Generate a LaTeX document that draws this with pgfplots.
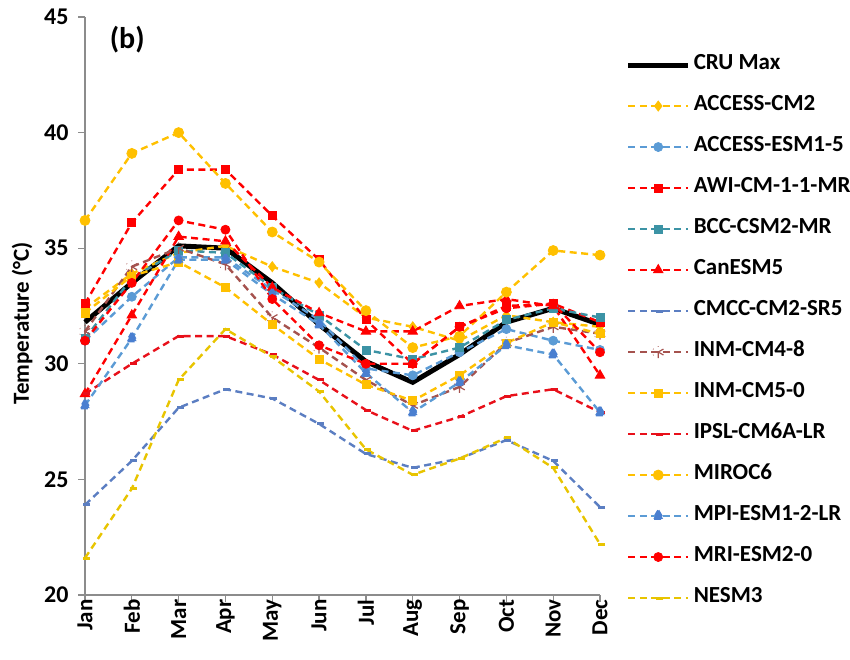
\documentclass[border=0pt]{standalone}
\usepackage{fontspec}
\setmainfont{Carlito}
\usepackage{pgfplots}
\usepackage{pgfplotstable}
\pgfplotsset{compat=1.18}

\definecolor{axisgray}{HTML}{8C8C8C}
\definecolor{gold}{HTML}{FFC000}
\definecolor{nesm}{HTML}{E8C400}
\definecolor{skyblue}{HTML}{5B9BD5}
\definecolor{teal}{HTML}{3C93A5}
\definecolor{cmcc}{HTML}{5B7EC2}
\definecolor{mpimark}{HTML}{4A7FD0}
\definecolor{brick}{HTML}{A5524E}
\definecolor{ipsl}{HTML}{E8101A}

% Monthly maximum temperature (deg C), Jan = 0 ... Dec = 11
\pgfplotstableread{
m  CRU  ACM2 AESM AWI  BCC  Can  CMCC INM4 INM5 IPSL MIROC MPI  MRI  NESM
0  31.8 32.4 31.0 32.6 31.1 28.7 23.9 31.4 32.2 28.7 36.2  28.2 31.0 21.6
1  33.5 33.9 32.9 36.1 33.7 32.1 25.8 34.2 33.8 30.0 39.1  31.1 33.5 24.6
2  35.1 34.8 34.6 38.4 34.9 35.5 28.1 35.0 34.4 31.2 40.0  34.5 36.2 29.3
3  35.0 35.1 34.6 38.4 34.8 35.3 28.9 34.3 33.3 31.2 37.8  34.5 35.8 31.5
4  33.5 34.2 33.2 36.4 33.3 33.3 28.5 32.0 31.7 30.4 35.7  33.0 32.8 30.3
5  31.7 33.5 31.9 34.5 32.1 32.2 27.4 30.7 30.2 29.3 34.4  31.7 30.8 28.8
6  30.1 32.0 29.8 31.9 30.6 31.4 26.1 29.3 29.1 28.0 32.3  29.6 30.0 26.3
7  29.2 31.6 29.5 30.0 30.2 31.4 25.5 28.2 28.4 27.1 30.7  27.9 30.0 25.2
8  30.4 31.0 30.5 31.6 30.7 32.5 25.9 29.0 29.5 27.7 31.2  29.2 31.6 25.9
9  31.8 32.1 31.5 32.5 31.9 32.8 26.7 30.9 30.9 28.6 33.1  30.8 32.4 26.8
10 32.4 31.8 31.0 32.6 32.4 32.5 25.8 31.6 31.8 28.9 34.9  30.4 32.6 25.5
11 31.7 31.6 30.6 31.8 32.0 29.5 23.8 31.3 31.3 27.9 34.7  27.9 30.5 22.2
}\tmax

\pgfplotsset{
  model/.style={line width=2.4pt, dash pattern=on 7pt off 4.5pt,
    mark options={solid, line width=0.8pt}},
}

\begin{document}
\begin{tikzpicture}[x=1pt,y=1pt]
\begin{axis}[
  at={(0,0)}, anchor=south west,
  scale only axis, width=515pt, height=578pt,
  xmin=0, xmax=11, ymin=20, ymax=45,
  xtick={0,...,11},
  xticklabels={Jan,Feb,Mar,Apr,May,Jun,Jul,Aug,Sep,Oct,Nov,Dec},
  xticklabel style={yshift=6pt, rotate=90, anchor=east,
    font=\bfseries\fontsize{23}{23}\selectfont},
  ytick={20,25,30,35,40,45},
  yticklabel style={xshift=-6pt, font=\bfseries\fontsize{24}{24}\selectfont},
  /pgf/number format/assume math mode=true,
  axis x line*=bottom, axis y line*=left,
  axis line style={draw=axisgray, line width=1.5pt, -},
  tick style={draw=axisgray, line width=1.2pt},
  tick align=outside, major tick length=7pt,
  ylabel={Temperature (°C)},
  ylabel style={font=\bfseries\fontsize{23}{23}\selectfont,
    at={(axis description cs:-0.122,0.47)}, anchor=center},
  clip=false,
  legend cell align=left,
  legend image code/.code={%
    \draw[mark repeat=2, mark phase=2, #1]
      plot coordinates {(0pt,0pt) (30pt,0pt) (60pt,0pt)};},
  legend style={draw=none, fill=none, inner sep=0pt, outer sep=0pt,
    at={(rel axis cs:1.050,0.929)}, anchor=north west,
    row sep=27pt,
    font=\bfseries\fontsize{23}{23}\selectfont,
    nodes={inner sep=0pt, text height=11pt, text depth=3pt},
    /tikz/every odd column/.append style={column sep=3pt}},
]
\addplot[black, line width=5pt, solid] table[x=m, y=CRU]{\tmax};
\addlegendentry{CRU Max}
\addplot[model, gold, mark=diamond*, mark size=5pt] table[x=m, y=ACM2]{\tmax};
\addlegendentry{ACCESS-CM2}
\addplot[model, skyblue, mark=*, mark size=4.5pt] table[x=m, y=AESM]{\tmax};
\addlegendentry{ACCESS-ESM1-5}
\addplot[model, red, mark=square*, mark size=4pt] table[x=m, y=AWI]{\tmax};
\addlegendentry{AWI-CM-1-1-MR}
\addplot[model, teal, mark=square*, mark size=4pt] table[x=m, y=BCC]{\tmax};
\addlegendentry{BCC-CSM2-MR}
\addplot[model, red, mark=triangle*, mark size=5.5pt] table[x=m, y=Can]{\tmax};
\addlegendentry{CanESM5}
\addplot[model, cmcc, mark=-, mark size=5pt, mark options={line width=3pt}] table[x=m, y=CMCC]{\tmax};
\addlegendentry{CMCC-CM2-SR5}
\addplot[model, brick, mark=asterisk, mark size=6pt, mark options={line width=1.2pt}] table[x=m, y=INM4]{\tmax};
\addlegendentry{INM-CM4-8}
\addplot[model, gold, mark=square*, mark size=4pt] table[x=m, y=INM5]{\tmax};
\addlegendentry{INM-CM5-0}
\addplot[model, ipsl, mark=-, mark size=5pt, mark options={line width=3pt}] table[x=m, y=IPSL]{\tmax};
\addlegendentry{IPSL-CM6A-LR}
\addplot[model, gold, mark=*, mark size=5pt] table[x=m, y=MIROC]{\tmax};
\addlegendentry{MIROC6}
\addplot[model, skyblue, mark=triangle*, mark size=5.5pt, mark options={fill=mpimark, draw=mpimark}] table[x=m, y=MPI]{\tmax};
\addlegendentry{MPI-ESM1-2-LR}
\addplot[model, red, mark=*, mark size=4.5pt] table[x=m, y=MRI]{\tmax};
\addlegendentry{MRI-ESM2-0}
\addplot[model, nesm, mark=-, mark size=5pt, mark options={line width=3pt}] table[x=m, y=NESM]{\tmax};
\addlegendentry{NESM3}
\node[font=\bfseries\fontsize{30}{30}\selectfont] at (axis description cs:0.082,0.960) {(b)};
\end{axis}
\pgfresetboundingbox
\path (-85pt,-65pt) rectangle (765pt,595pt);
\end{tikzpicture}
\end{document}
